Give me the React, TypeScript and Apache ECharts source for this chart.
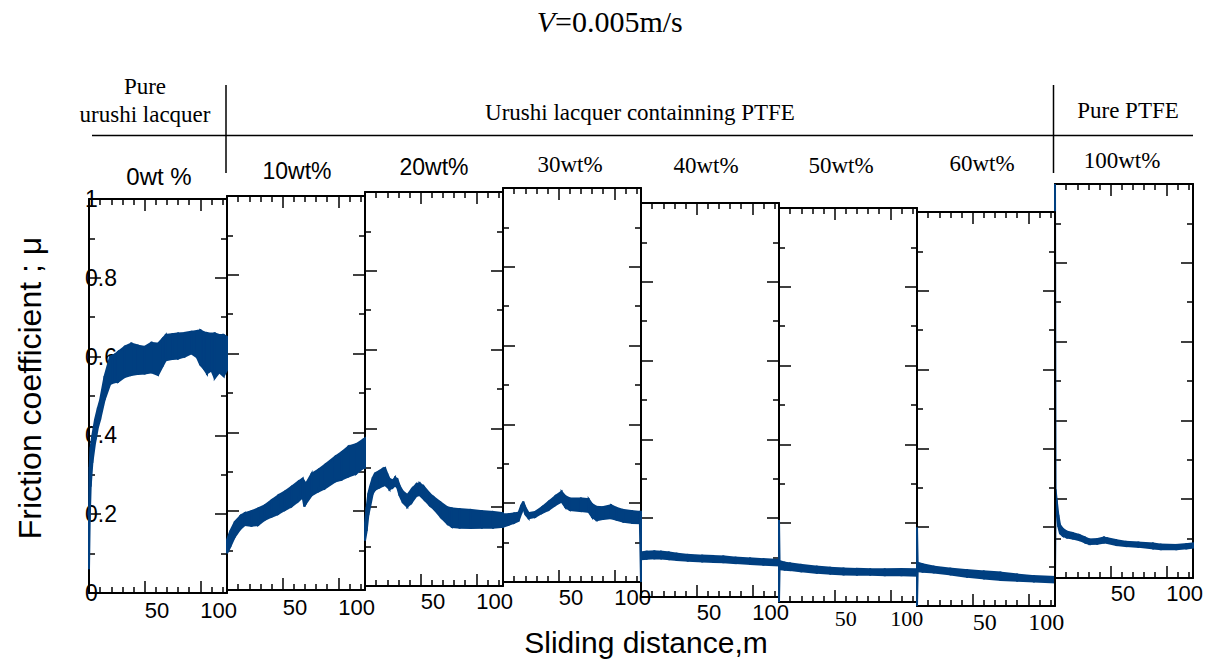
import React, { useEffect, useRef } from 'react';
import * as echarts from 'echarts';

// ---------- data ----------
const speedLabel = '=0.005m/s';
const groupLabels = ['Pure', 'urushi lacquer', 'Urushi lacquer containning PTFE', 'Pure PTFE'];
const panelLabels = ['0wt %', '10wt%', '20wt%', '30wt%', '40wt%', '50wt%', '60wt%', '100wt%'];
const xTickValues = [50, 100];
const yAxisTitle = 'Friction coefficient ; \u03bc';
const xAxisTitle = 'Sliding distance,m';
const X_MAX = 124;

// 0wt%
const dist0 = [0, 0.6, 1.5, 3, 5.4, 8, 10, 14, 19, 23, 26, 32, 38, 44, 50, 56, 62, 66, 69, 75, 80, 86, 92, 97, 100, 103, 106, 110, 113, 117, 121, 124];
const low0 = [0.06, 0.18, 0.27, 0.33, 0.38, 0.42, 0.44, 0.49, 0.53, 0.535, 0.536, 0.548, 0.553, 0.556, 0.557, 0.56, 0.553, 0.575, 0.591, 0.594, 0.595, 0.6, 0.608, 0.598, 0.579, 0.57, 0.557, 0.565, 0.545, 0.56, 0.55, 0.566];
const high0 = [0.2, 0.32, 0.37, 0.4, 0.44, 0.47, 0.49, 0.55, 0.6, 0.605, 0.612, 0.625, 0.633, 0.628, 0.625, 0.635, 0.633, 0.645, 0.655, 0.657, 0.659, 0.66, 0.663, 0.665, 0.667, 0.662, 0.66, 0.658, 0.659, 0.655, 0.655, 0.65];
// 10wt%
const dist1 = [0, 3, 7, 12, 16, 22, 28, 34, 40, 46, 52, 58, 64, 68, 69.5, 71, 76, 82, 88, 97, 103, 109, 116, 122, 124];
const low1 = [0.093, 0.11, 0.135, 0.155, 0.165, 0.163, 0.165, 0.178, 0.186, 0.193, 0.203, 0.212, 0.225, 0.235, 0.212, 0.22, 0.24, 0.25, 0.258, 0.275, 0.28, 0.288, 0.295, 0.309, 0.31];
const high1 = [0.127, 0.15, 0.173, 0.188, 0.195, 0.2, 0.207, 0.215, 0.228, 0.24, 0.25, 0.262, 0.275, 0.283, 0.275, 0.27, 0.295, 0.305, 0.318, 0.338, 0.35, 0.364, 0.37, 0.381, 0.385];
// 20wt%
const dist2 = [0, 1.5, 3, 4.5, 7, 9, 13, 16, 18, 20, 22, 25, 27, 29, 31, 34, 38, 42, 46, 49, 53, 58, 62, 68, 74, 78, 85, 95, 105, 115, 124];
const low2 = [0.115, 0.14, 0.18, 0.2, 0.235, 0.244, 0.25, 0.254, 0.256, 0.252, 0.245, 0.25, 0.255, 0.25, 0.23, 0.212, 0.201, 0.212, 0.228, 0.231, 0.22, 0.205, 0.195, 0.175, 0.158, 0.15, 0.148, 0.147, 0.148, 0.148, 0.15];
const high2 = [0.16, 0.2, 0.235, 0.252, 0.275, 0.286, 0.292, 0.298, 0.3, 0.285, 0.272, 0.268, 0.275, 0.272, 0.255, 0.24, 0.231, 0.246, 0.258, 0.261, 0.252, 0.235, 0.225, 0.212, 0.2, 0.197, 0.195, 0.193, 0.19, 0.188, 0.185];
// 30wt%
const dist3 = [0, 5, 10, 14, 16.5, 18.2, 20, 23, 29, 35, 41, 47, 52.6, 56, 60, 70, 77, 80, 84, 90, 97, 102, 108, 116, 123, 124];
const low3 = [0.14, 0.145, 0.15, 0.155, 0.175, 0.187, 0.172, 0.162, 0.165, 0.175, 0.183, 0.195, 0.204, 0.19, 0.183, 0.18, 0.178, 0.165, 0.157, 0.16, 0.162, 0.158, 0.153, 0.15, 0.149, 0];
const high3 = [0.172, 0.172, 0.174, 0.176, 0.195, 0.204, 0.19, 0.175, 0.178, 0.19, 0.204, 0.218, 0.229, 0.218, 0.212, 0.212, 0.21, 0.198, 0.191, 0.19, 0.195, 0.188, 0.183, 0.18, 0.178, 0.178];
// 40wt%
const dist4 = [0, 5, 12, 18, 25, 32, 42, 55, 65, 74, 85, 98, 110, 124];
const low4 = [0.096, 0.097, 0.098, 0.098, 0.096, 0.094, 0.092, 0.09, 0.089, 0.088, 0.086, 0.084, 0.082, 0.08];
const high4 = [0.113, 0.115, 0.116, 0.115, 0.113, 0.11, 0.107, 0.105, 0.104, 0.103, 0.1, 0.098, 0.096, 0.094];
// 50wt%
const dist5 = [0, 0.5, 5, 10, 20, 34, 46, 58, 70, 82, 95, 110, 124];
const low5 = [0, 0.083, 0.082, 0.081, 0.078, 0.074, 0.072, 0.07, 0.069, 0.069, 0.068, 0.068, 0.067];
const high5 = [0.208, 0.104, 0.1, 0.098, 0.094, 0.09, 0.087, 0.085, 0.084, 0.083, 0.083, 0.084, 0.083];
// 60wt%
const dist6 = [0, 0.6, 5, 15, 30, 45, 60, 75, 90, 105, 124];
const low6 = [0, 0.088, 0.087, 0.085, 0.08, 0.074, 0.07, 0.066, 0.064, 0.062, 0.06];
const high6 = [0.2, 0.11, 0.106, 0.1, 0.095, 0.091, 0.088, 0.085, 0.08, 0.076, 0.074];
// 100wt%
const dist7 = [0, 0.5, 1.5, 3, 4.5, 7, 10.5, 16, 22, 27, 31, 38, 44, 47, 55, 64, 75, 88, 95, 109, 118, 124];
const low7 = [0, 0.17, 0.164, 0.13, 0.113, 0.107, 0.103, 0.1, 0.096, 0.09, 0.086, 0.087, 0.09, 0.089, 0.084, 0.081, 0.079, 0.075, 0.073, 0.073, 0.075, 0.077];
const high7 = [1, 0.225, 0.198, 0.16, 0.135, 0.125, 0.118, 0.114, 0.109, 0.103, 0.098, 0.099, 0.103, 0.101, 0.096, 0.092, 0.09, 0.088, 0.085, 0.084, 0.086, 0.088];

const panelData = [
  [dist0, low0, high0],
  [dist1, low1, high1],
  [dist2, low2, high2],
  [dist3, low3, high3],
  [dist4, low4, high4],
  [dist5, low5, high5],
  [dist6, low6, high6],
  [dist7, low7, high7],
];

// ---------- layout / style ----------
const SANS = "'Liberation Sans', Arial, sans-serif";
const SERIF = "'Liberation Serif', 'Times New Roman', serif";
const BLUE = '#003f80';
const PW = 138;
const PH = 394;
const layout = [
  { left: 89, top: 199, xf: SANS, xs: 22, xm: 6, tx: 159, ty: 176, tf: SANS, ts: 24 },
  { left: 227, top: 196, xf: SANS, xs: 22, xm: 6, tx: 297, ty: 171, tf: SANS, ts: 23 },
  { left: 365, top: 192, xf: SANS, xs: 22, xm: 4, tx: 434, ty: 167, tf: SANS, ts: 23 },
  { left: 503, top: 188, xf: SANS, xs: 22, xm: 4, tx: 570, ty: 164, tf: SERIF, ts: 23 },
  { left: 641, top: 203, xf: SANS, xs: 22, xm: 4, tx: 706, ty: 165, tf: SERIF, ts: 23 },
  { left: 779, top: 208, xf: SERIF, xs: 22, xm: 5, tx: 841, ty: 165, tf: SERIF, ts: 23 },
  { left: 917, top: 212, xf: SERIF, xs: 24, xm: 4, tx: 982, ty: 163, tf: SERIF, ts: 23 },
  { left: 1055, top: 184, xf: SANS, xs: 22, xm: 4, tx: 1122, ty: 160, tf: SERIF, ts: 23 },
];

function buildOption() {
  const grid: any[] = [];
  const xAxis: any[] = [];
  const yAxis: any[] = [];
  const series: any[] = [];
  const lineSt = { color: '#000', width: 2 };
  const tickSt = { color: '#000', width: 1.5 };

  layout.forEach((p, i) => {
    grid.push({ left: p.left, top: p.top, width: PW, height: PH, show: false, containLabel: false });
    const xCommon = {
      gridIndex: i, type: 'value', min: 0, max: X_MAX, interval: 50,
      axisLine: { show: true, onZero: false, lineStyle: lineSt },
      axisTick: { show: true, inside: true, length: 12, lineStyle: tickSt },
      minorTick: { show: true, splitNumber: 5, length: 6, lineStyle: tickSt },
      splitLine: { show: false },
      minorSplitLine: { show: false },
    };
    xAxis.push({
      ...xCommon, position: 'bottom',
      axisLabel: {
        show: true, align: 'left', margin: p.xm, color: '#000',
        fontFamily: p.xf, fontSize: p.xs,
        formatter: (v: number) => (xTickValues.includes(v) ? String(v) : ''),
      },
    });
    xAxis.push({ ...xCommon, position: 'top', axisLabel: { show: false } });
    const yCommon = {
      gridIndex: i, type: 'value', min: 0, max: 1, interval: 0.2,
      axisLine: { show: true, onZero: false, lineStyle: lineSt },
      axisTick: { show: true, inside: true, length: 12, lineStyle: tickSt },
      minorTick: { show: true, splitNumber: 2, length: 6, lineStyle: tickSt },
      splitLine: { show: false },
      minorSplitLine: { show: false },
    };
    yAxis.push({
      ...yCommon, position: 'left',
      axisLabel: i === 0
        ? { show: true, align: 'left', margin: 4, color: '#000', fontFamily: SANS, fontSize: 23 }
        : { show: false },
    });
    yAxis.push({ ...yCommon, position: 'right', axisLabel: { show: false }, z: i === 6 ? 6 : 0 });

    const [xs, lo, hi] = panelData[i];
    const rows = xs.map((x, k) => [x, lo[k], hi[k]]);
    series.push({
      type: 'custom',
      xAxisIndex: 2 * i,
      yAxisIndex: 2 * i,
      silent: true,
      clip: false,
      z: 3,
      encode: { x: 0, y: [1, 2] },
      data: rows,
      renderItem: (params: any, api: any) => {
        const k = params.dataIndex;
        if (k >= rows.length - 1) return null;
        const next = rows[k + 1];
        const pts = [
          api.coord([api.value(0), api.value(1)]),
          api.coord([next[0], next[1]]),
          api.coord([next[0], next[2]]),
          api.coord([api.value(0), api.value(2)]),
        ];
        return {
          type: 'polygon',
          shape: { points: pts },
          style: { fill: BLUE, stroke: BLUE, lineWidth: 2 },
        };
      },
    });
  });

  const graphic: any[] = [
    { type: 'text', x: 555, y: 21, style: { text: 'V', font: `italic 30px ${SERIF}`, fill: '#000', textAlign: 'right', textVerticalAlign: 'middle' } },
    { type: 'text', x: 555, y: 21, style: { text: speedLabel, font: `30px ${SERIF}`, fill: '#000', textAlign: 'left', textVerticalAlign: 'middle' } },
    { type: 'text', x: 145, y: 86, style: { text: groupLabels[0], font: `23px ${SERIF}`, fill: '#000', textAlign: 'center', textVerticalAlign: 'middle' } },
    { type: 'text', x: 145, y: 114, style: { text: groupLabels[1], font: `23px ${SERIF}`, fill: '#000', textAlign: 'center', textVerticalAlign: 'middle' } },
    { type: 'text', x: 640, y: 112, style: { text: groupLabels[2], font: `23px ${SERIF}`, fill: '#000', textAlign: 'center', textVerticalAlign: 'middle' } },
    { type: 'text', x: 1128, y: 110, style: { text: groupLabels[3], font: `23px ${SERIF}`, fill: '#000', textAlign: 'center', textVerticalAlign: 'middle' } },
    { type: 'line', shape: { x1: 92, y1: 135.5, x2: 1193, y2: 135.5 }, style: { stroke: '#000', lineWidth: 1.5 } },
    { type: 'line', shape: { x1: 226, y1: 85, x2: 226, y2: 173 }, style: { stroke: '#000', lineWidth: 1.5 } },
    { type: 'line', shape: { x1: 1053.5, y1: 85, x2: 1053.5, y2: 173 }, style: { stroke: '#000', lineWidth: 1.5 } },
    { type: 'text', x: 30, y: 388, rotation: Math.PI / 2, style: { text: yAxisTitle, font: `32px ${SANS}`, fill: '#000', textAlign: 'center', textVerticalAlign: 'middle' } },
    { type: 'text', x: 646, y: 642, style: { text: xAxisTitle, font: `30px ${SANS}`, fill: '#000', textAlign: 'center', textVerticalAlign: 'middle' } },
  ];
  layout.forEach((p, i) => {
    graphic.push({
      type: 'text', x: p.tx, y: p.ty,
      style: { text: panelLabels[i], font: `${p.ts}px ${p.tf}`, fill: '#000', textAlign: 'center', textVerticalAlign: 'middle' },
    });
  });

  return {
    animation: false,
    backgroundColor: '#fff',
    grid, xAxis, yAxis, series, graphic,
  };
}

export default function App() {
  const ref = useRef<HTMLDivElement>(null);
  useEffect(() => {
    if (!ref.current) return;
    const chart = echarts.init(ref.current, undefined, { renderer: 'svg' });
    chart.setOption(buildOption() as any);
    return () => chart.dispose();
  }, []);
  return (
    <div
      ref={ref}
      style={{ position: 'fixed', left: 0, top: 0, width: 1213, height: 664, background: '#fff' }}
    />
  );
}
